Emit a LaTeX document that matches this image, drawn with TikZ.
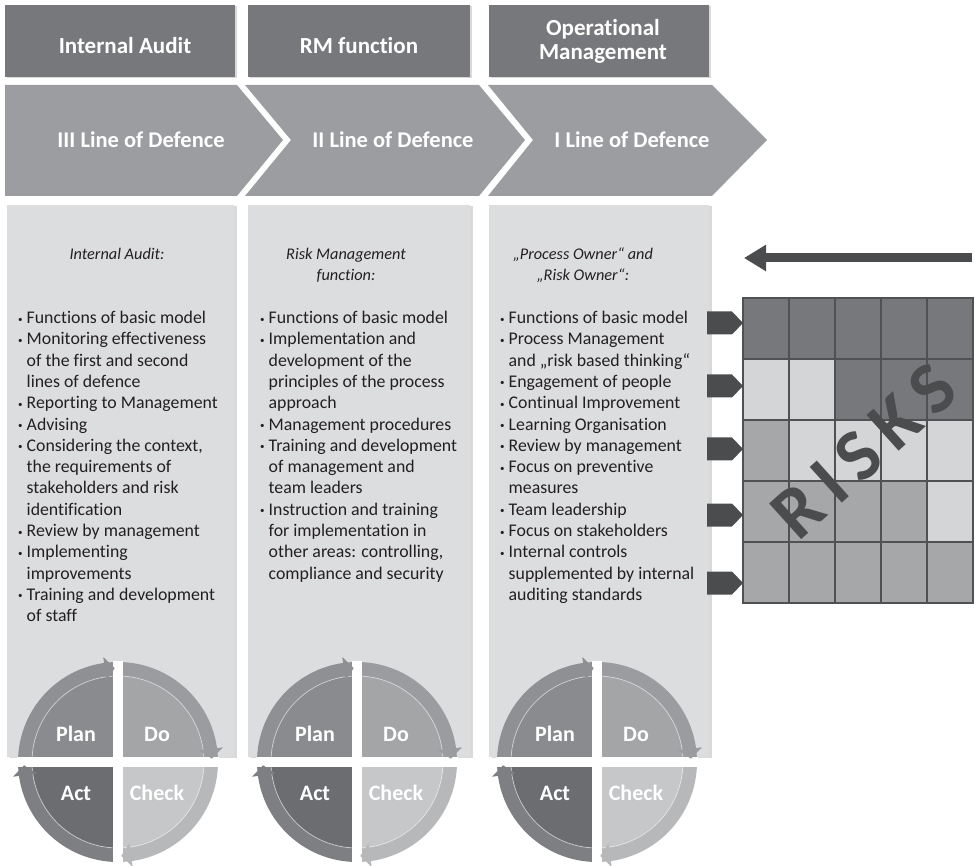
\documentclass[tikz,border=0pt]{standalone}
\usepackage{fontspec}
\setmainfont{Carlito}[Ligatures=NoCommon]
\usetikzlibrary{arrows.meta,shadows}

\definecolor{hdrgray}{HTML}{77787B}
\definecolor{chevgray}{HTML}{9C9DA0}
\definecolor{colgray}{HTML}{DCDDDF}
\definecolor{tabgray}{HTML}{4B4C4E}
\definecolor{linegray}{HTML}{505153}
\definecolor{cellD}{HTML}{77787B}
\definecolor{cellM}{HTML}{A6A7A9}
\definecolor{cellL}{HTML}{D4D5D7}
\definecolor{txtgray}{HTML}{231F20}
\definecolor{planin}{HTML}{8A8B8E}
\definecolor{planring}{HTML}{8F9093}
\definecolor{doin}{HTML}{A4A5A7}
\definecolor{doring}{HTML}{9B9C9F}
\definecolor{checkin}{HTML}{C6C7C9}
\definecolor{checkring}{HTML}{B7B8BA}
\definecolor{actin}{HTML}{6C6D70}
\definecolor{actring}{HTML}{7E7F82}

\newcommand{\bul}{\makebox[8.5pt][l]{\raisebox{1.5pt}{\fontsize{9}{9}\selectfont\textbullet}}}
\newcommand{\ind}{\hspace*{8.5pt}}
\newcommand{\listfont}{\fontsize{17.8}{21.3}\selectfont}

\begin{document}
\begin{tikzpicture}[x=1pt,y=1pt,
  hdrbox/.style={fill=hdrgray, drop shadow={shadow xshift=2pt,shadow yshift=-1pt,opacity=0.3}},
  hdrtext/.style={text=white, font=\fontsize{23}{24}\selectfont\bfseries, align=center},
  chevron/.style={fill=chevgray},
  chevtext/.style={text=white, font=\fontsize{22.5}{24}\selectfont\bfseries},
  colbox/.style={fill=colgray, drop shadow={shadow xshift=2.5pt,shadow yshift=-1pt,opacity=0.3}},
  coltitle/.style={text=txtgray, font=\fontsize{16.3}{21.3}\selectfont\itshape, align=center},
  collist/.style={text=txtgray, font=\listfont, align=left, anchor=north west, inner sep=0pt},
  pdcatext/.style={text=white, font=\fontsize{22}{24}\selectfont\bfseries},
  tab/.style={fill=tabgray},
  cell/.style={draw=linegray, line width=1.5pt},
  risktext/.style={text=tabgray, font=\fontsize{74}{74}\selectfont\bfseries},
  riskarrow/.style={draw=tabgray, line width=9pt, -{Triangle[length=22pt,width=25pt]}}]
\useasboundingbox (0,0) rectangle (975,-866);

% headers
\fill[hdrbox] (5,-5) rectangle (235,-77);
\fill[hdrbox] (248,-5) rectangle (470,-77);
\fill[hdrbox] (489,-5) rectangle (709,-77);
\node[hdrtext] (hdrA) at (125,-46) {Internal Audit};
\node[hdrtext] (hdrB) at (359,-46) {RM function};
\node[hdrtext] (hdrC) at (603,-41) {Operational\\Management};

% chevrons
\fill[chevron] (5,-85) -- (237,-85) -- (283,-140) -- (237,-196) -- (5,-196) -- cycle;
\fill[chevron] (245,-85) -- (479,-85) -- (525,-140) -- (479,-196) -- (245,-196) -- (291,-140) -- cycle;
\fill[chevron] (488,-85) -- (712,-85) -- (767,-140) -- (712,-196) -- (488,-196) -- (533,-140) -- cycle;
\node[chevtext] (chevA) at (141,-140) {III Line of Defence};
\node[chevtext] (chevB) at (393,-140) {II Line of Defence};
\node[chevtext] (chevC) at (632,-140) {I Line of Defence};

% columns
\fill[colbox] (7,-205) rectangle (234,-757);
\fill[colbox] (248,-205) rectangle (470,-757);
\fill[colbox] (489,-205) rectangle (709,-757);

\node[coltitle] (titleA) at (117,-254) {Internal Audit:};
\node[coltitle] (titleB) at (346,-265) {Risk Management\\function:};
\node[coltitle] (titleC) at (583,-265) {„Process Owner“ and\\„Risk Owner“:};

\node[collist] (listA) at (18,-311) {\bul Functions of basic model\\
\bul Monitoring effectiveness\\ \ind of the first and second\\ \ind lines of defence\\
\bul Reporting to Management\\ \bul Advising\\
\bul Considering the context,\\ \ind the requirements of\\ \ind stakeholders and risk\\ \ind identification\\
\bul Review by management\\ \bul Implementing\\ \ind improvements\\
\bul Training and development\\ \ind of staff};

\node[collist] (listB) at (260,-311) {\bul Functions of basic model\\
\bul Implementation and\\ \ind development of the\\ \ind principles of the process\\ \ind approach\\
\bul Management procedures\\
\bul Training and development\\ \ind of management and\\ \ind team leaders\\
\bul Instruction and training\\ \ind for implementation in\\ \ind other areas: controlling,\\ \ind compliance and security};

\node[collist] (listC) at (500,-311) {\bul Functions of basic model\\
\bul Process Management\\ \ind and „risk based thinking“\\
\bul Engagement of people\\ \bul Continual Improvement\\ \bul Learning Organisation\\
\bul Review by management\\ \bul Focus on preventive\\ \ind measures\\
\bul Team leadership\\ \bul Focus on stakeholders\\
\bul Internal controls\\ \ind supplemented by internal\\ \ind auditing standards};

% PDCA circles
\foreach \cx/\nm in {118/A,357/B,597/C}{
  \begin{scope}[shift={(\cx,-762)}]
    \fill[planin] (0,0) -- (180:86) arc (180:90:86) -- cycle;
    \fill[doin] (0,0) -- (90:86) arc (90:0:86) -- cycle;
    \fill[checkin] (0,0) -- (0:86) arc (0:-90:86) -- cycle;
    \fill[actin] (0,0) -- (-90:86) arc (-90:-180:86) -- cycle;
    \foreach \a/\c in {180/planring,90/doring,0/checkring,-90/actring}
      \fill[\c] (\a:100) arc (\a:{\a-90}:100) -- ({\a-90}:86) arc ({\a-90}:\a:86) -- cycle;
    \draw[white, opacity=0.5, line width=0.8pt] (0,0) circle (86);
    \fill[white] (-5,-101) rectangle (5,101);
    \fill[white] (-101,-5) rectangle (101,5);
    \foreach \a/\c in {180/planring,90/doring,0/checkring,-90/actring}
      \fill[\c] ({\a-82}:82) -- ({\a-82}:106) -- ({\a-88}:94) -- cycle;
    \node[pdcatext] (plan\nm) at (-42,28) {Plan};
    \node[pdcatext] (do\nm) at (39,28) {Do};
    \node[pdcatext] (act\nm) at (-42,-31) {Act};
    \node[pdcatext] (check\nm) at (39,-31) {Check};
  \end{scope}
}

% risk arrow
\coordinate (arrowStart) at (972,-258);
\coordinate (arrowEnd) at (744,-258);
\draw[riskarrow] (arrowStart) -- (arrowEnd);

% tabs
\foreach \ty in {323,386,449,515,583}
  \fill[tab] (707,{11.5-\ty}) -- (732,{11.5-\ty}) -- (743,-\ty) -- (732,{-11.5-\ty}) -- (707,{-11.5-\ty}) -- cycle;

% risk grid
\foreach \row [count=\r from 0] in {{D,D,D,D,D},{L,L,D,D,D},{M,L,L,L,L},{M,M,M,M,L},{M,M,M,M,M}}
  \foreach \c [count=\k from 0] in \row
    \filldraw[cell, fill=cell\c] ({743+\k*46},{-298-\r*61}) rectangle ++(46,-61);

\node[risktext, rotate=42] (risks) at (864,-451) {R\hspace{12pt}I\hspace{12pt}S\hspace{12pt}K\hspace{12pt}S};
\end{tikzpicture}
\end{document}
